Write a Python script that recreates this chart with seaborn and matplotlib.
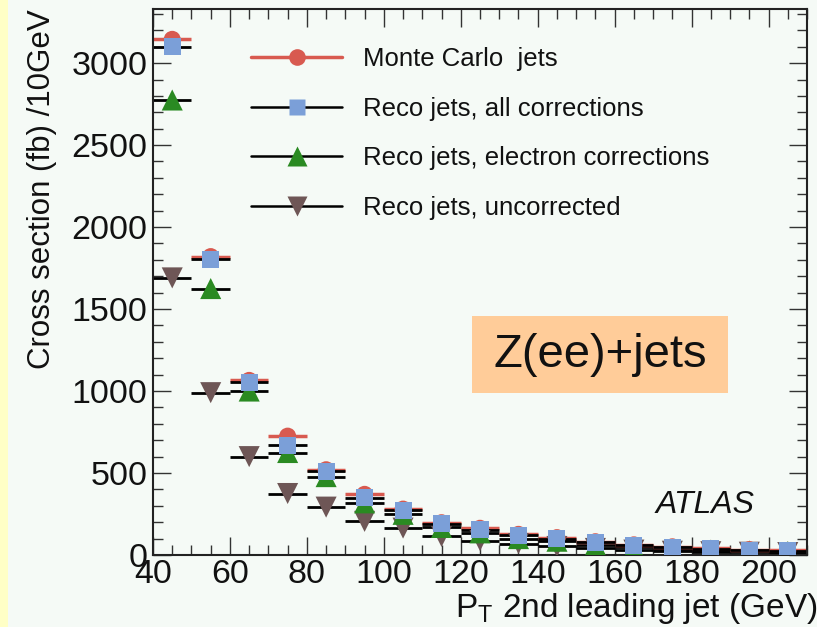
import numpy as np
import pandas as pd
import matplotlib
matplotlib.use("Agg")
import matplotlib.pyplot as plt
from matplotlib.lines import Line2D
from matplotlib.patches import Rectangle
from matplotlib.ticker import MultipleLocator
import seaborn as sns

# ---- data ----
pt_bins = [45, 55, 65, 75, 85, 95, 105, 115, 125, 135, 145, 155, 165, 175, 185, 195, 205]
mc_jets = [3145, 1820, 1065, 725, 520, 370, 280, 197, 163, 126, 106, 81, 62, 50, 40, 33, 28]
reco_all = [3100, 1805, 1055, 668, 512, 350, 272, 190, 155, 120, 100, 78, 58, 48, 37, 30, 26]
reco_electron = [2775, 1625, 1000, 625, 478, 318, 248, 168, 135, 100, 84, 62, 46, 36, 30, 25, 21]
reco_uncorr = [1690, 990, 600, 375, 292, 205, 164, 113, 88, 70, 52, 40, 30, 23, 20, 17, 15]
half_bin = 5

labels = ["Monte Carlo  jets", "Reco jets, all corrections",
          "Reco jets, electron corrections", "Reco jets, uncorrected"]

sns.set_theme(style="ticks")
plt.rcParams['font.family'] = ['Liberation Sans', 'DejaVu Sans']
plt.rcParams['mathtext.default'] = 'regular'

bg = "#f5faf6"
c_red = "#d85a50"
c_blue = "#7b9fd8"
c_green = "#2a8a22"
c_brown = "#6e5656"

fig = plt.figure(figsize=(8.17, 6.27), dpi=100, facecolor=bg)
fig.patches.append(Rectangle((0, 0), 7.5 / 817, 1, transform=fig.transFigure,
                             facecolor="#ffffc6", edgecolor="none", zorder=0))
ax = fig.add_axes([153 / 817, 72 / 627, 654 / 817, 546 / 627])
ax.set_facecolor(bg)

df = pd.DataFrame({"pt": pt_bins, "mc": mc_jets, "all": reco_all,
                   "ele": reco_electron, "unc": reco_uncorr})

# horizontal bin-width bars
ax.errorbar(df["pt"], df["unc"], xerr=half_bin, fmt="none", ecolor="black", elinewidth=2.0, capsize=0, zorder=2)
ax.errorbar(df["pt"], df["ele"], xerr=half_bin, fmt="none", ecolor="black", elinewidth=2.0, capsize=0, zorder=2)
ax.errorbar(df["pt"], df["mc"], xerr=half_bin, fmt="none", ecolor=c_red, elinewidth=2.5, capsize=0, zorder=2)
ax.errorbar(df["pt"], df["all"], xerr=half_bin, fmt="none", ecolor="black", elinewidth=2.0, capsize=0, zorder=2)

sns.scatterplot(data=df, x="pt", y="unc", marker="v", s=230, color=c_brown, edgecolor="none", ax=ax, zorder=3)
sns.scatterplot(data=df, x="pt", y="ele", marker="^", s=230, color=c_green, edgecolor="none", ax=ax, zorder=4)
sns.scatterplot(data=df, x="pt", y="mc", marker="o", s=150, color=c_red, edgecolor="none", ax=ax, zorder=5)
sns.scatterplot(data=df, x="pt", y="all", marker="s", s=150, color=c_blue, edgecolor="none", ax=ax, zorder=6)

ax.set_xlim(40, 210)
ax.set_ylim(0, 3330)
ax.xaxis.set_major_locator(MultipleLocator(20))
ax.xaxis.set_minor_locator(MultipleLocator(5))
ax.yaxis.set_major_locator(MultipleLocator(500))
ax.yaxis.set_minor_locator(MultipleLocator(100))
ax.tick_params(which="both", direction="in", top=True, right=True, color="#333333",
               width=1.0, labelsize=24.5, pad=4, labelcolor="#111111")
ax.tick_params(axis="x", pad=3)
ax.tick_params(which="major", length=13)
ax.tick_params(which="minor", length=7)
for s in ax.spines.values():
    s.set_linewidth(1.5)
    s.set_color("#222222")

ax.set_xlabel("$P_T$ 2nd leading jet (GeV)", fontsize=24, ha="right", color="#111111")
ax.xaxis.set_label_coords(1.016, -0.066)
ax.xaxis.label.set_va("top")
ax.set_ylabel("Cross section (fb) /10GeV", fontsize=22.5, ha="right", color="#111111")
ax.yaxis.set_label_coords(-0.147, 1.0)

handles = [
    Line2D([], [], color=c_red, lw=2.5, marker="o", markersize=12, markerfacecolor=c_red, markeredgecolor="none"),
    Line2D([], [], color="black", lw=1.8, marker="s", markersize=11.5, markerfacecolor=c_blue, markeredgecolor="none"),
    Line2D([], [], color="black", lw=1.8, marker="^", markersize=14, markerfacecolor=c_green, markeredgecolor="none"),
    Line2D([], [], color="black", lw=1.8, marker="v", markersize=14, markerfacecolor=c_brown, markeredgecolor="none"),
]
leg = ax.legend(handles, labels, loc="upper left", bbox_to_anchor=(0.15, 0.930), frameon=False,
                fontsize=18.5, handlelength=3.54, handletextpad=0.82, labelspacing=0.99,
                borderpad=0, borderaxespad=0)
for t in leg.get_texts():
    t.set_color("#111111")

# Z(ee)+jets box
ax.add_patch(Rectangle((0.4878, 0.2967), 0.3914, 0.141, transform=ax.transAxes,
                       facecolor="#ffcc99", edgecolor="none", zorder=7))
ax.text(0.6835, 0.367, "Z(ee)+jets", transform=ax.transAxes, fontsize=34,
        ha="center", va="center", color="#111111", zorder=8)
ax.text(0.844, 0.0916, "ATLAS", transform=ax.transAxes, fontsize=23, style="italic",
        ha="center", va="center", color="#111111", zorder=8)

fig.savefig("out.png", dpi=100, facecolor=bg)
